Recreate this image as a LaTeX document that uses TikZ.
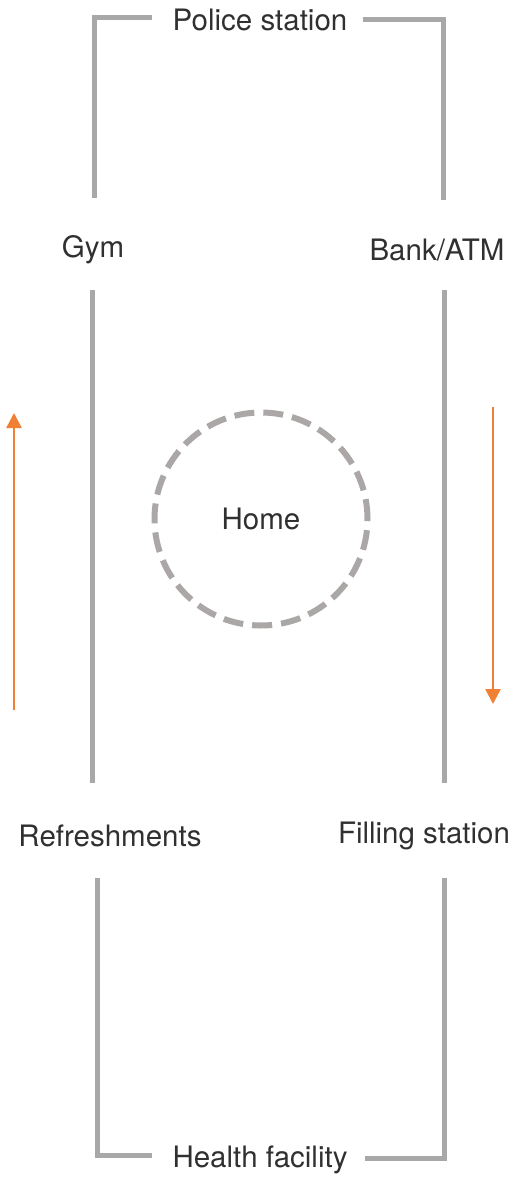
\documentclass[tikz,border=0pt]{standalone}
\usepackage{fontspec}
\setmainfont{TeX Gyre Heros}
\usetikzlibrary{arrows.meta}
\definecolor{linegray}{HTML}{A8A8A8}
\definecolor{circgray}{HTML}{ABA7A7}
\definecolor{arrorange}{HTML}{F08033}
\definecolor{txt}{HTML}{303030}
\begin{document}
\begin{tikzpicture}[x=1pt,y=-1pt,
  road/.style={draw=linegray,line width=5pt},
  lbl/.style={font=\fontsize{29.5}{31}\selectfont,text=txt,inner sep=0pt,anchor=center},
  flow/.style={draw=arrorange,line width=2.5pt,-{Triangle[length=15pt,width=15pt]}}]
\useasboundingbox (0,0) rectangle (511,1177);
% labels
\node[lbl] (police) at (260,20) {Police station};
\node[lbl] (gym) at (93,250) {Gym};
\node[lbl] (bank) at (437,250) {Bank/ATM};
\node[lbl] (refr) at (110,836) {Refreshments};
\node[lbl] (fill) at (424,836) {Filling station};
\node[lbl] (health) at (260,1160) {Health facility};
% home
\node[circle,draw=circgray,line width=6pt,dash pattern=on 20pt off 9pt,minimum size=213pt,inner sep=0pt,lbl] (home) at (261,519) {Home};
% top bracket
\coordinate (tl1) at (94,198);
\coordinate (tl2) at (94,18);
\coordinate (tl3) at (152,18);
\coordinate (tr1) at (363,20);
\coordinate (tr2) at (443,20);
\coordinate (tr3) at (443,200);
\draw[road] (tl1) -- (tl2) -- (tl3);
\draw[road] (tr1) -- (tr2) -- (tr3);
% middle
\coordinate (ml1) at (92,290);
\coordinate (ml2) at (92,783);
\coordinate (mr1) at (444,290);
\coordinate (mr2) at (444,783);
\draw[road] (ml1) -- (ml2);
\draw[road] (mr1) -- (mr2);
% bottom bracket
\coordinate (bl1) at (97,878);
\coordinate (bl2) at (97,1155);
\coordinate (bl3) at (152,1155);
\coordinate (br1) at (365,1158);
\coordinate (br2) at (444,1158);
\coordinate (br3) at (444,878);
\draw[road] (bl1) -- (bl2) -- (bl3);
\draw[road] (br1) -- (br2) -- (br3);
% arrows
\coordinate (la1) at (14,710);
\coordinate (la2) at (14,413);
\coordinate (ra1) at (493,407);
\coordinate (ra2) at (493,704);
\draw[flow] (la1) -- (la2);
\draw[flow] (ra1) -- (ra2);
\end{tikzpicture}
\end{document}
